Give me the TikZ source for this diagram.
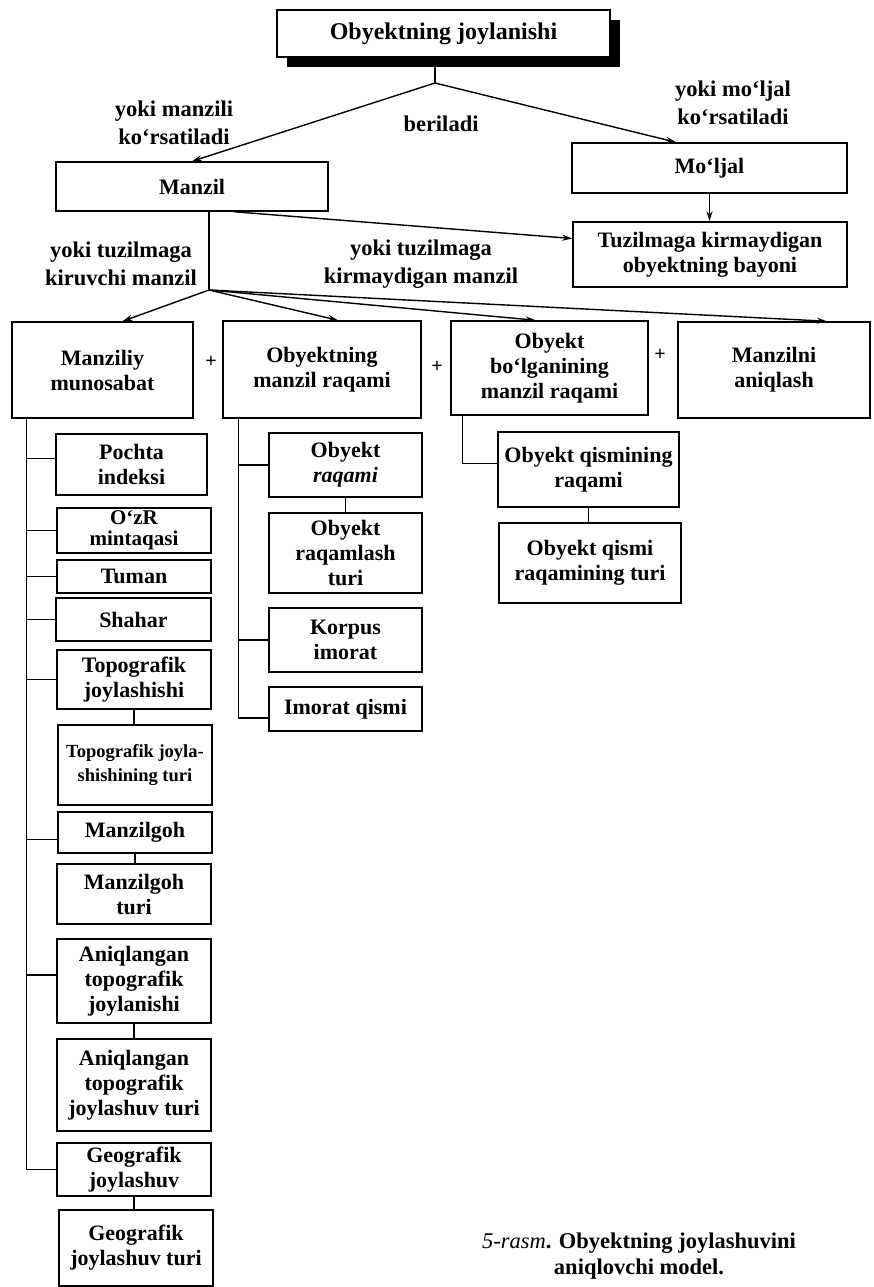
\documentclass[tikz,border=0pt]{standalone}
\usepackage{fontspec}
\setmainfont{Liberation Serif}
\usetikzlibrary{arrows.meta,shadows}
\begin{document}
\begin{tikzpicture}[x=1pt,y=-1pt,line width=1.4pt,
  box/.style={draw,line width=1.5pt,fill=white,align=center,inner sep=1pt,
    font=\fontsize{22}{25}\selectfont\bfseries},
  lbl/.style={align=center,font=\fontsize{22.5}{28}\selectfont\bfseries},
  plus/.style={inner sep=0pt,font=\fontsize{20}{20}\selectfont\bfseries},
  >={Stealth[length=10pt,width=6pt]}]
\useasboundingbox (0,0) rectangle (873,1287);
\node[box,minimum width=333pt,minimum height=47pt,font=\fontsize{24}{28}\selectfont\bfseries,
  drop shadow={shadow xshift=10pt,shadow yshift=-10pt,opacity=1,fill=black}] (top) at (443.5,33.5) {Obyektning joylanishi};
\node[box,minimum width=272pt,minimum height=49pt] (manzil) at (192,186.5) {Manzil};
\node[box,minimum width=275pt,minimum height=50pt] (moljal) at (709.5,168) {Mo‘ljal};
\node[box,minimum width=274pt,minimum height=65pt] (tuz) at (710,254.5) {Tuzilmaga kirmaydigan\\obyektning bayoni};
\node[lbl] (l1) at (174,123) {yoki manzili\\ko‘rsatiladi};
\node[lbl] (l2) at (441,124) {beriladi};
\node[lbl] (l3) at (733,103) {yoki mo‘ljal\\ko‘rsatiladi};
\node[lbl] (l4) at (121,264) {yoki tuzilmaga\\kiruvchi manzil};
\node[lbl] (l5) at (421,264) {yoki tuzilmaga\\kirmaydigan manzil};
\coordinate (j1) at (435,83);
\coordinate (j2) at (209,290);
\draw (top.south -| j1) -- (j1);
\draw [->] (j1) -- (manzil.north);
\draw [->] (j1) -- ([xshift=-33.5pt]moljal.north);
\draw [->] (moljal.south) -- (moljal.south |- tuz.north);
\draw [->] ([xshift=42pt]manzil.south) -- ([yshift=16pt]tuz.west);
\draw (manzil.south -| j2) -- (j2);
\node[box,minimum width=181pt,minimum height=96pt] (manziliy) at (102.5,370) {Manziliy\\munosabat};
\node[box,minimum width=198pt,minimum height=97pt] (obyn) at (322,369.5) {Obyektning\\manzil raqami};
\node[box,minimum width=197pt,minimum height=94pt] (bolg) at (549.5,368) {Obyekt\\bo‘lganining\\manzil raqami};
\node[box,minimum width=192pt,minimum height=96pt] (aniqlash) at (774,370) {Manzilni\\aniqlash};
\node[plus] (p1) at (211,362) {+};
\node[plus] (p2) at (437,367) {+};
\node[plus] (p3) at (660,355) {+};
\draw [->] (j2) -- ([xshift=20pt]manziliy.north);
\draw [->] (j2) -- ([xshift=16pt]obyn.north);
\draw [->] (j2) -- ([xshift=-14pt]bolg.north);
\draw [->] (j2) -- ([xshift=53pt]aniqlash.north);
\node[box,minimum width=151pt,minimum height=61pt] (pochta) at (131.5,464.5) {Pochta\\indeksi};
\node[box,minimum width=154pt,minimum height=45pt,font=\fontsize{21}{21}\selectfont\bfseries] (ozr) at (134,530.5) {O‘zR\\mintaqasi};
\node[box,minimum width=154pt,minimum height=33pt] (tuman) at (134,576.5) {Tuman};
\node[box,minimum width=155pt,minimum height=43pt] (shahar) at (133.5,619.5) {Shahar};
\node[box,minimum width=154pt,minimum height=59pt] (topo) at (134,679.5) {Topografik\\joylashishi};
\node[box,minimum width=154pt,minimum height=80pt,font=\fontsize{18.5}{24}\selectfont\bfseries] (topoturi) at (135,765) {Topografik joyla-\\shishining turi};
\node[box,minimum width=154pt,minimum height=41pt] (manzilgoh) at (135,832.5) {Manzilgoh};
\node[box,minimum width=154pt,minimum height=60pt] (manzilgohturi) at (134,894) {Manzilgoh\\turi};
\node[box,minimum width=154pt,minimum height=84pt] (aniq) at (134,981) {Aniqlangan\\topografik\\joylanishi};
\node[box,minimum width=154pt,minimum height=92pt] (aniqturi) at (134,1085) {Aniqlangan\\topografik\\joylashuv turi};
\node[box,minimum width=154pt,minimum height=53pt] (geo) at (134,1169.5) {Geografik\\joylashuv};
\node[box,minimum width=154pt,minimum height=76pt] (geoturi) at (136,1248) {Geografik\\joylashuv turi};
\coordinate (lc) at ([xshift=15pt]manziliy.south west);
\draw (lc) |- ([yshift=6pt]pochta.west);
\draw (lc) |- (ozr.west);
\draw (lc) |- (tuman.west);
\draw (lc) |- (shahar.west);
\draw (lc) |- (topo.west);
\draw (lc) |- ([yshift=-7pt]manzilgoh.west);
\draw (lc) |- ([yshift=6pt]aniq.west);
\draw (lc) |- (geo.west);
\draw (topo.south) -- (topo.south |- topoturi.north);
\draw (manzilgoh.south) -- (manzilgoh.south |- manzilgohturi.north);
\draw (aniq.south) -- (aniq.south |- aniqturi.north);
\draw (geo.south) -- (geo.south |- geoturi.north);
\node[box,minimum width=153pt,minimum height=64pt] (raqami) at (345.5,465) {Obyekt\\\textit{raqami}};
\node[box,minimum width=153pt,minimum height=80pt] (raqturi) at (345.5,553) {Obyekt\\raqamlash\\turi};
\node[box,minimum width=153pt,minimum height=64pt] (korpus) at (345.5,640) {Korpus\\imorat};
\node[box,minimum width=153pt,minimum height=44pt] (imorat) at (345.5,709) {Imorat qismi};
\coordinate (mc) at ([xshift=16pt]obyn.south west);
\draw (mc) |- (raqami.west);
\draw (mc) |- (korpus.west);
\draw (mc) |- ([yshift=-9pt]imorat.west);
\draw (raqami.south) -- (raqami.south |- raqturi.north);
\node[box,minimum width=181pt,minimum height=75pt] (qism) at (588.5,469.5) {Obyekt qismining\\raqami};
\node[box,minimum width=182pt,minimum height=80pt] (qismturi) at (590,563) {Obyekt qismi\\raqamining turi};
\coordinate (rc) at ([xshift=12pt]bolg.south west);
\draw (rc) |- ([yshift=6pt]qism.west);
\draw (qism.south) -- (qism.south |- qismturi.north);
\node[lbl,font=\fontsize{22.5}{26}\selectfont\bfseries] (cap) at (639,1256) {{\mdseries\itshape 5-rasm}. Obyektning joylashuvini\\aniqlovchi model.};
\end{tikzpicture}
\end{document}
